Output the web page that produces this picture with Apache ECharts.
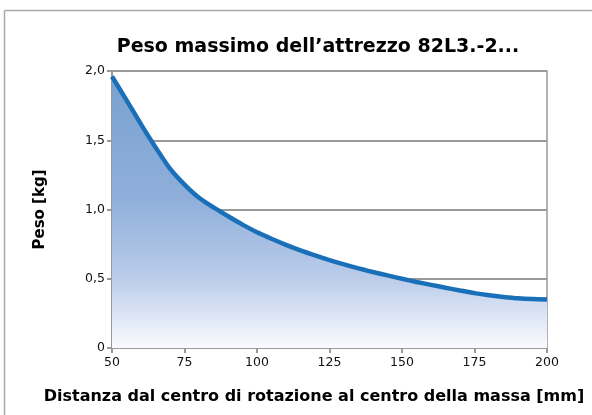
<!DOCTYPE html>
<html>
<head>
<meta charset="utf-8">
<script src="https://cdn.jsdelivr.net/npm/echarts@6/dist/echarts.min.js"></script>
<style>html,body{margin:0;padding:0;background:#fff;overflow:hidden}#c{width:592px;height:415px}</style>
</head>
<body>
<div id="c"></div>
<script>
const distances = [50, 55, 60, 65, 70, 75, 80, 85, 90, 95, 100, 105, 110, 115, 120, 125, 130, 135, 140, 145, 150, 155, 160, 165, 170, 175, 180, 185, 190, 195, 200];
const weights = [1.96, 1.79, 1.615, 1.45, 1.295, 1.18, 1.085, 1.015, 0.952, 0.891, 0.836, 0.789, 0.745, 0.705, 0.669, 0.635, 0.604, 0.575, 0.549, 0.524, 0.50, 0.477, 0.456, 0.435, 0.415, 0.396, 0.381, 0.369, 0.359, 0.353, 0.35];
const xTicks = [50, 75, 100, 125, 150, 175, 200];
const yTicks = [0, 0.5, 1.0, 1.5, 2.0];
const chartTitle = "Peso massimo dell\u2019attrezzo 82L3.-2...";
const xName = "Distanza dal centro di rotazione al centro della massa [mm]";
const yName = "Peso [kg]";

const font = "'DejaVu Sans', sans-serif";
const chart = echarts.init(document.getElementById('c'), null, {renderer: 'canvas'});
chart.setOption({
  animation: false,
  backgroundColor: '#fff',
  graphic: [{
    type: 'line', z: -10,
    shape: {x1: 4.5, y1: 10.5, x2: 700, y2: 10.5},
    style: {stroke: '#aaaaaa', lineWidth: 1.5}
  }, {
    type: 'line', z: -10,
    shape: {x1: 4.5, y1: 10.5, x2: 4.5, y2: 700},
    style: {stroke: '#aaaaaa', lineWidth: 1.5}
  }],
  title: [{
    text: chartTitle, left: 313, top: 33, textAlign: 'center',
    textStyle: {fontFamily: font, fontWeight: 'bold', fontSize: 19, color: '#000'}
  }, {
    text: xName, left: 309, top: 384, textAlign: 'center',
    textStyle: {fontFamily: font, fontWeight: 'bold', fontSize: 16, color: '#000'}
  }],
  grid: {left: 112, right: 45, top: 71, bottom: 67, show: true, borderColor: '#999', borderWidth: 1.5, backgroundColor: 'transparent'},
  xAxis: {
    type: 'value', min: 50, max: 200, interval: 25,
    axisLine: {show: true, lineStyle: {color: '#999', width: 2}},
    axisTick: {show: true, length: 5, lineStyle: {color: '#999', width: 2}},
    axisLabel: {fontFamily: font, fontSize: 12.5, color: '#111', margin: 8,
      formatter: v => xTicks.includes(v) ? String(v) : ''},
    splitLine: {show: false}
  },
  yAxis: {
    type: 'value', min: 0, max: 2, interval: 0.5,
    name: yName, nameLocation: 'middle', nameGap: 64, nameRotate: 90,
    nameTextStyle: {fontFamily: font, fontWeight: 'bold', fontSize: 15, color: '#000'},
    axisLine: {show: true, lineStyle: {color: '#999', width: 2}},
    axisTick: {show: true, length: 5, lineStyle: {color: '#999', width: 2}},
    axisLabel: {fontFamily: font, fontSize: 12.5, color: '#111', margin: 7,
      formatter: v => yTicks.includes(v) ? (v === 0 ? '0' : v.toFixed(1).replace('.', ',')) : ''},
    splitLine: {show: true, lineStyle: {color: '#999', width: 2}}
  },
  series: [{
    type: 'line',
    data: distances.map((d, i) => [d, weights[i]]),
    smooth: 0.25,
    showSymbol: false,
    lineStyle: {color: '#1a70b8', width: 4.5},
    areaStyle: {
      opacity: 1,
      color: new echarts.graphic.LinearGradient(0, 0, 0, 1, [
        {offset: 0, color: '#7aa1d0'},
        {offset: 0.45, color: '#8fafda'},
        {offset: 0.75, color: '#bccdea'},
        {offset: 1, color: '#fafbfe'}
      ])
    }
  }]
});
</script>
</body>
</html>
